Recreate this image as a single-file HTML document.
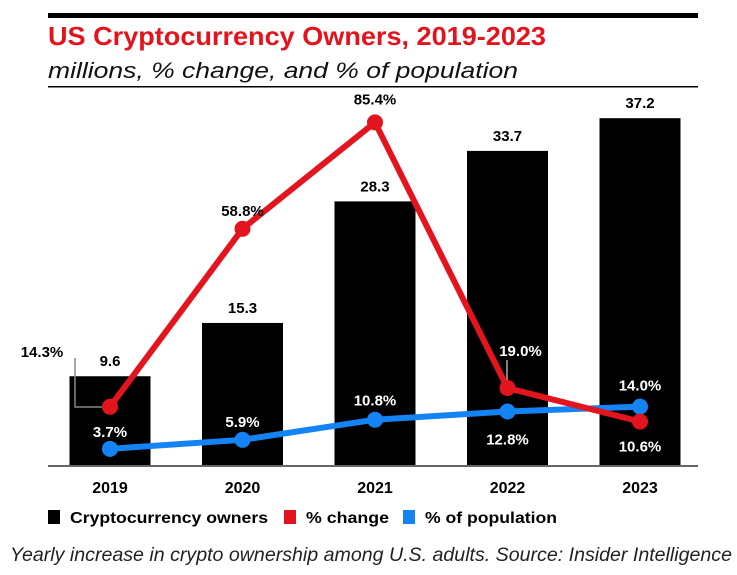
<!DOCTYPE html>
<html><head><meta charset="utf-8"><style>
body{margin:0;background:#fff;width:737px;height:575px;overflow:hidden}
svg{display:block;font-family:"Liberation Sans",sans-serif}
</style></head><body>
<svg width="737" height="575">
<rect x="48" y="13" width="650" height="5" fill="#000"/>
<text x="48" y="45" font-size="26" font-weight="bold" fill="#e4141e" textLength="498" lengthAdjust="spacingAndGlyphs">US Cryptocurrency Owners, 2019-2023</text>
<text x="48" y="78" font-size="22" font-style="italic" fill="#111" textLength="470" lengthAdjust="spacingAndGlyphs">millions, % change, and % of population</text>
<rect x="48" y="86" width="650" height="1.5" fill="#000"/>
<g id="bars"></g>
<rect x="48" y="465" width="650" height="2" fill="#666"/>
<g id="xlabels"></g>
<polyline points="75,358 75,407 103,407" fill="none" stroke="#888" stroke-width="1.5"/>
<line x1="507" y1="360" x2="507" y2="385" stroke="#aaa" stroke-width="1.5"/>
<g id="lines"></g>
<g id="labels" font-size="15" font-weight="bold" text-anchor="middle"></g>
<g font-size="16" font-weight="bold">
<rect x="48" y="510" width="12" height="14" fill="#000"/>
<text x="70" y="523" textLength="198" lengthAdjust="spacingAndGlyphs">Cryptocurrency owners</text>
<rect x="284" y="510" width="12" height="14" fill="#e4141e"/>
<text x="306" y="523" textLength="83" lengthAdjust="spacingAndGlyphs">% change</text>
<rect x="403" y="510" width="12" height="14" fill="#1483f4"/>
<text x="425" y="523" textLength="132" lengthAdjust="spacingAndGlyphs">% of population</text>
</g>
<text x="10" y="561" font-size="19" font-style="italic" fill="#222" textLength="722" lengthAdjust="spacingAndGlyphs">Yearly increase in crypto ownership among U.S. adults. Source: Insider Intelligence</text>
</svg>
<script>
const years=["2019","2020","2021","2022","2023"];
const owners=[9.6,15.3,28.3,33.7,37.2];
const pctChange=[14.3,58.8,85.4,19.0,10.6];
const pctPop=[3.7,5.9,10.8,12.8,14.0];
const NS="http://www.w3.org/2000/svg";
const xc=i=>110+i*132.5;
const yBar=v=>466-v*9.35;
const yPct=v=>464-v*4.0;
const yPop=v=>464-v*4.1;
function mk(tag,attrs,parent){const e=document.createElementNS(NS,tag);for(const k in attrs)e.setAttribute(k,attrs[k]);parent.appendChild(e);return e;}
const bars=document.getElementById('bars'),xl=document.getElementById('xlabels'),ln=document.getElementById('lines'),lb=document.getElementById('labels');
years.forEach((y,i)=>{
 const r=mk('rect',{x:xc(i)-40.5,y:yBar(owners[i]),width:81,height:466-yBar(owners[i]),fill:'#000'},bars);
 
 
 const t=mk('text',{x:xc(i),y:yBar(owners[i])-10,'font-weight':'bold','font-size':'15','text-anchor':'middle'},lb);
 t.textContent=owners[i].toFixed(1);
 
 
 const xt=mk('text',{x:xc(i),y:493,'font-size':'16','font-weight':'bold','text-anchor':'middle'},xl);
 xt.textContent=y;
 
 
});
function series(vals,yf,color,name){
 const pl=mk('polyline',{points:vals.map((v,i)=>xc(i)+','+yf(v)).join(' '),fill:'none',stroke:color,'stroke-width':6,'stroke-linejoin':'round'},ln);
 
 
 vals.forEach((v,i)=>{const c=mk('circle',{cx:xc(i),cy:yf(v),r:8,fill:color},ln);
 
 });
}
series(pctPop,yPop,'#1483f4','population');
series(pctChange,yPct,'#e4141e','change');
// change labels: [dx, dy, color]
const chOff=[[-68,-55,'#000'],[0,-18,'#000'],[0,-23,'#000'],[13,-37,'#fff'],[0,25,'#fff']];
pctChange.forEach((v,i)=>{const o=chOff[i];
 const t=mk('text',{x:xc(i)+o[0],y:yPct(v)+o[1]+5,fill:o[2]},lb);
 t.textContent=v.toFixed(1)+'%';
 
 });
const popOff=[-17,-18,-19,28,-21];
pctPop.forEach((v,i)=>{
 const t=mk('text',{x:xc(i),y:yPop(v)+popOff[i]+5,fill:'#fff'},lb);
 t.textContent=v.toFixed(1)+'%';
 
 });
</script>
</body></html>
